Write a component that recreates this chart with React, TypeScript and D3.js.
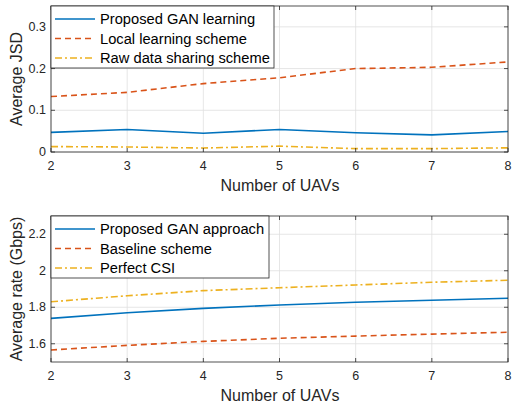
import React from "react";
import * as d3 from "d3";

const uavs = [2, 3, 4, 5, 6, 7, 8];
const jsdGAN = [0.047, 0.054, 0.045, 0.054, 0.046, 0.041, 0.049];
const jsdLocal = [0.133, 0.143, 0.164, 0.178, 0.2, 0.203, 0.216];
const jsdRaw = [0.013, 0.012, 0.0095, 0.014, 0.008, 0.008, 0.010];
const rateGAN = [1.739, 1.77, 1.794, 1.812, 1.827, 1.838, 1.849];
const rateBase = [1.566, 1.591, 1.613, 1.63, 1.642, 1.653, 1.663];
const ratePerfect = [1.83, 1.863, 1.891, 1.907, 1.922, 1.937, 1.948];
const topYTicks = [0, 0.1, 0.2, 0.3];
const botYTicks = [1.6, 1.8, 2, 2.2];
const topLegend = ["Proposed GAN learning", "Local learning scheme", "Raw data sharing scheme"];
const botLegend = ["Proposed GAN approach", "Baseline scheme", "Perfect CSI"];

const COLORS = ["#0072BD", "#D95319", "#EDB120"];
const DASHES = ["", "6,4", "7,3,2,3"];
const FONT = "'Liberation Sans', Arial, Helvetica, sans-serif";
const AX = "#262626";

type PanelProps = {
  top: number;
  bottom: number;
  yDomain: [number, number];
  yTicks: number[];
  series: number[][];
  legend: string[];
  legendW: number;
  ylabel: string;
  fmt: (v: number) => string;
};

function Panel({ top, bottom, yDomain, yTicks, series, legend, legendW, ylabel, fmt }: PanelProps) {
  const left = 51, right = 508;
  const x = d3.scaleLinear().domain([2, 8]).range([left, right]);
  const y = d3.scaleLinear().domain(yDomain).range([bottom, top]);
  const line = d3.line<number>().x((_, i) => x(uavs[i])).y((d) => y(d));
  const tl = 4;
  const legH = 62;
  return (
    <g>
      <rect x={left} y={top} width={right - left} height={bottom - top} fill="#fff" />
      {uavs.map((u) => (
        <line key={"gx" + u} x1={x(u)} x2={x(u)} y1={top} y2={bottom} stroke="#dfdfdf" strokeWidth={0.8} />
      ))}
      {yTicks.map((t) => (
        <line key={"gy" + t} x1={left} x2={right} y1={y(t)} y2={y(t)} stroke="#dfdfdf" strokeWidth={0.8} />
      ))}
      {series.map((s, i) => (
        <path key={"s" + i} d={line(s) || ""} fill="none" stroke={COLORS[i]} strokeWidth={1.6} strokeDasharray={DASHES[i]} />
      ))}
      <rect x={left} y={top} width={right - left} height={bottom - top} fill="none" stroke={AX} strokeWidth={0.8} />
      {uavs.map((u) => (
        <g key={"tx" + u}>
          <line x1={x(u)} x2={x(u)} y1={bottom} y2={bottom - tl} stroke={AX} strokeWidth={0.8} />
          <line x1={x(u)} x2={x(u)} y1={top} y2={top + tl} stroke={AX} strokeWidth={0.8} />
          <text x={x(u)} y={bottom + 18} textAnchor="middle" fontSize={12.5} fill={AX} fontFamily={FONT}>{u}</text>
        </g>
      ))}
      {yTicks.map((t) => (
        <g key={"ty" + t}>
          <line x1={left} x2={left + tl} y1={y(t)} y2={y(t)} stroke={AX} strokeWidth={0.8} />
          <line x1={right} x2={right - tl} y1={y(t)} y2={y(t)} stroke={AX} strokeWidth={0.8} />
          <text x={left - 5} y={y(t) + 4} textAnchor="end" fontSize={12.5} fill={AX} fontFamily={FONT}>{fmt(t)}</text>
        </g>
      ))}
      <text x={280} y={bottom + 39} textAnchor="middle" fontSize={16} fill={AX} fontFamily={FONT}>Number of UAVs</text>
      <text transform={`translate(22,${(top + bottom) / 2}) rotate(-90)`} textAnchor="middle" fontSize={16} fill={AX} fontFamily={FONT}>{ylabel}</text>
      <rect x={left} y={top} width={legendW} height={legH} fill="#fff" stroke={AX} strokeWidth={0.8} />
      {legend.map((name, i) => {
        const ly = top + 13 + i * 19.5;
        return (
          <g key={"l" + i}>
            <line x1={left + 4} x2={left + 44} y1={ly} y2={ly} stroke={COLORS[i]} strokeWidth={1.6} strokeDasharray={DASHES[i]} />
            <text x={left + 49} y={ly + 5} fontSize={14.7} fill="#000" fontFamily={FONT}>{name}</text>
          </g>
        );
      })}
    </g>
  );
}

export default function App() {
  return (
    <svg width={512} height={407} style={{ position: "absolute", left: 0, top: 0, background: "#fff" }}>
      <rect width={512} height={407} fill="#fff" />
      <Panel top={6} bottom={152} yDomain={[0, 0.35]} yTicks={topYTicks} series={[jsdGAN, jsdLocal, jsdRaw]}
        legend={topLegend} legendW={223} ylabel="Average JSD" fmt={(v) => (v === 0 ? "0" : String(v))} />
      <Panel top={216} bottom={362} yDomain={[1.5, 2.3]} yTicks={botYTicks} series={[rateGAN, rateBase, ratePerfect]}
        legend={botLegend} legendW={218} ylabel="Average rate (Gbps)" fmt={(v) => String(v)} />
    </svg>
  );
}
